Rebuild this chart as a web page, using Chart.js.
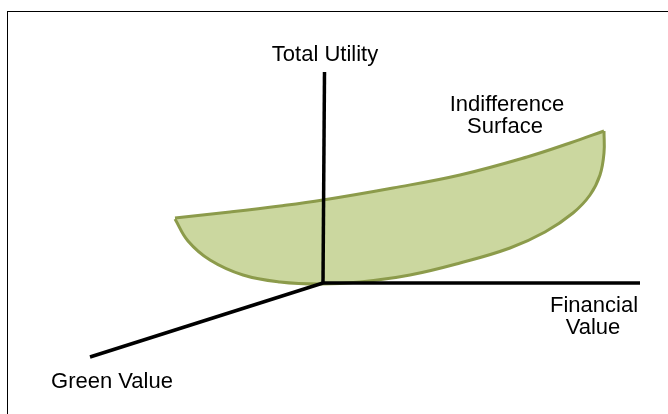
<!DOCTYPE html>
<html>
<head>
<meta charset="utf-8">
<title>Indifference Surface</title>
<script src="https://cdn.jsdelivr.net/npm/chart.js@4"></script>
<style>
  html, body { margin: 0; padding: 0; background: #fff; overflow: hidden; }
  #wrap { position: relative; width: 668px; height: 414px; }
  #frame {
    position: absolute; left: 7px; top: 11px; width: 700px; height: 450px;
    border-top: 1px solid #000; border-left: 1px solid #000; pointer-events: none;
  }
</style>
</head>
<body>
<div id="wrap">
  <canvas id="myChart" width="668" height="414"></canvas>
  <div id="frame"></div>
</div>
<script>
// diagram coordinates (x right, y down)
var surfaceTopX = [175, 230, 280, 323, 393, 460, 527, 570, 604];
var surfaceTopY = [218, 212, 206, 200, 188, 175, 157, 143, 131];

var surfaceBottomX = [175, 188, 210, 243, 280, 320, 360, 410, 460, 510, 545, 573, 590, 600, 604, 604];
var surfaceBottomY = [219, 241, 260, 275, 282, 284, 282, 275, 263, 248, 232, 213, 195, 175, 153, 131];

var utilityAxisX = [324.5, 323];
var utilityAxisY = [72, 283];
var financialAxisX = [323, 640];
var financialAxisY = [283, 283];
var greenAxisX = [323, 90];
var greenAxisY = [283, 357];

var labels = ["Total Utility", "Indifference", "Surface", "Financial", "Value", "Green Value"];
var labelX = [325, 507, 505, 594, 593, 112];
var labelY = [61, 111, 133, 312, 334, 388];

function pts(xs, ys) {
  return xs.map(function (x, i) { return { x: x, y: ys[i] }; });
}

function axisLine(xs, ys) {
  return {
    data: pts(xs, ys),
    showLine: true,
    borderColor: "#000",
    borderWidth: 3.5,
    pointRadius: 0,
    tension: 0,
    fill: false,
    order: 0
  };
}

const labelPlugin = {
  id: "diagramLabels",
  afterDraw(chart) {
    const ctx = chart.ctx;
    const xs = chart.scales.x, ys = chart.scales.y;
    ctx.save();
    ctx.font = '22px "Liberation Sans", Arial, sans-serif';
    ctx.fillStyle = "#000";
    ctx.textAlign = "center";
    ctx.textBaseline = "alphabetic";
    labels.forEach(function (t, i) {
      ctx.fillText(t, xs.getPixelForValue(labelX[i]), ys.getPixelForValue(labelY[i]));
    });
    ctx.restore();
  }
};

new Chart("myChart", {
  type: "scatter",
  data: {
    datasets: [
      {
        data: pts(surfaceTopX, surfaceTopY),
        showLine: true,
        borderColor: "#8c9b4b",
        borderWidth: 3,
        pointRadius: 0,
        tension: 0.4,
        fill: false,
        order: 5
      },
      {
        data: pts(surfaceBottomX, surfaceBottomY),
        showLine: true,
        borderColor: "#8c9b4b",
        backgroundColor: "#cbd79f",
        borderWidth: 3,
        pointRadius: 0,
        tension: 0.4,
        fill: "-1",
        order: 6
      },
      axisLine(utilityAxisX, utilityAxisY),
      axisLine(financialAxisX, financialAxisY),
      axisLine(greenAxisX, greenAxisY)
    ]
  },
  options: {
    responsive: false,
    animation: false,
    layout: { padding: 0 },
    plugins: {
      legend: { display: false },
      tooltip: { enabled: false },
      title: { display: false }
    },
    scales: {
      x: { type: "linear", min: 0, max: 668, display: false },
      y: { type: "linear", min: 0, max: 414, reverse: true, display: false }
    }
  },
  plugins: [labelPlugin]
});
</script>
</body>
</html>
